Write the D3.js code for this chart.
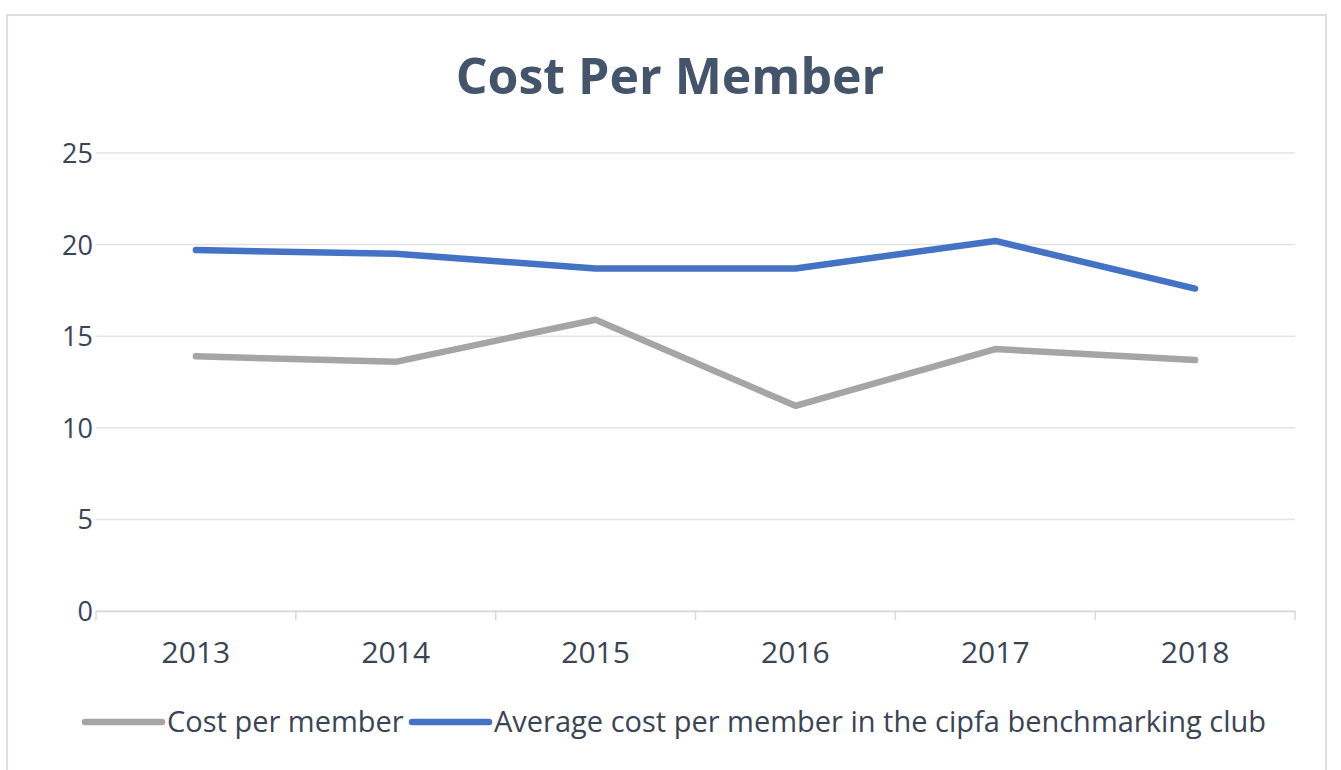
<!DOCTYPE html>
<html>
<head>
<meta charset="utf-8">
<script src="https://cdn.jsdelivr.net/npm/d3@7"></script>
<style>
  body { margin: 0; background: #fff; }
  text { font-family: "Open Sans", sans-serif; }
</style>
</head>
<body>
<script>
var width = 1341
var height = 770

var years = ["2013", "2014", "2015", "2016", "2017", "2018"]
var costPerMember = [13.9, 13.6, 15.9, 11.2, 14.3, 13.7]
var clubAverage = [19.7, 19.5, 18.7, 18.7, 20.2, 17.6]
var yTicks = [0, 5, 10, 15, 20, 25]
var seriesNames = ["Cost per member", "Average cost per member in the cipfa benchmarking club"]
var seriesColors = ["#a5a5a5", "#4472c4"]

var svg = d3.select("body").append("svg")
    .attr("width", width)
    .attr("height", height)

// chart frame
svg.append("rect")
    .attr("x", 7).attr("y", 15)
    .attr("width", 1319).attr("height", 780)
    .attr("fill", "#fff")
    .attr("stroke", "#dcdfe6")
    .attr("stroke-width", 2)

svg.append("text")
    .attr("x", 670).attr("y", 94)
    .attr("text-anchor", "middle")
    .attr("font-size", 50)
    .attr("font-weight", "bold")
    .attr("fill", "#44546a")
    .text("Cost Per Member")

var x = d3.scaleBand().domain(years).range([96, 1295])
var y = d3.scaleLinear().domain([0, 25]).range([611, 153])

// gridlines
svg.append("g").selectAll("line").data(yTicks).enter()
    .append("line")
    .attr("x1", 96).attr("x2", 1295)
    .attr("y1", function(d){ return y(d) })
    .attr("y2", function(d){ return y(d) })
    .attr("stroke", "#e3e3e3")
    .attr("stroke-width", 1.5)

// y labels
svg.append("g").selectAll("text").data(yTicks).enter()
    .append("text")
    .attr("x", 93)
    .attr("y", function(d){ return y(d) + 10 })
    .attr("text-anchor", "end")
    .attr("font-size", 27)
    .attr("fill", "#3a4455")
    .text(function(d){ return d })

// x axis
var xAxis = svg.append("g")
    .attr("transform", "translate(0," + y(0) + ")")
    .call(d3.axisBottom(x).tickSize(0).tickPadding(52))
xAxis.select(".domain").attr("stroke", "#d9d9d9").attr("stroke-width", 1.5)
xAxis.selectAll(".tick text")
    .attr("font-size", 30)
    .attr("font-family", "Open Sans, sans-serif")
    .attr("fill", "#3a4455")
    .attr("dy", 0)
var bounds = years.map(function(d){ return x(d) }).concat([x.range()[1]])
xAxis.selectAll(".bound").data(bounds).enter()
    .append("line")
    .attr("x1", function(d){ return d }).attr("x2", function(d){ return d })
    .attr("y1", 0).attr("y2", 9)
    .attr("stroke", "#d9d9d9")
    .attr("stroke-width", 1.5)

var line = d3.line()
    .x(function(d, i){ return x(years[i]) + x.bandwidth() / 2 })
    .y(function(d){ return y(d) })

var series = [costPerMember, clubAverage]
svg.append("g").selectAll("path").data(series).enter()
    .append("path")
    .attr("d", line)
    .attr("fill", "none")
    .attr("stroke", function(d, i){ return seriesColors[i] })
    .attr("stroke-width", 6.5)
    .attr("stroke-linecap", "round")
    .attr("stroke-linejoin", "round")

// legend
var legendX = [85, 412]
var legend = svg.append("g").selectAll("g").data(seriesNames).enter()
    .append("g")
    .attr("transform", function(d, i){ return "translate(" + legendX[i] + ",722)" })
legend.append("line")
    .attr("x1", 0).attr("x2", 77)
    .attr("stroke", function(d, i){ return seriesColors[i] })
    .attr("stroke-width", 6.5)
    .attr("stroke-linecap", "round")
legend.append("text")
    .attr("x", 82).attr("y", 10)
    .attr("font-size", 29)
    .attr("fill", "#3a4455")
    .text(function(d){ return d })
</script>
</body>
</html>
